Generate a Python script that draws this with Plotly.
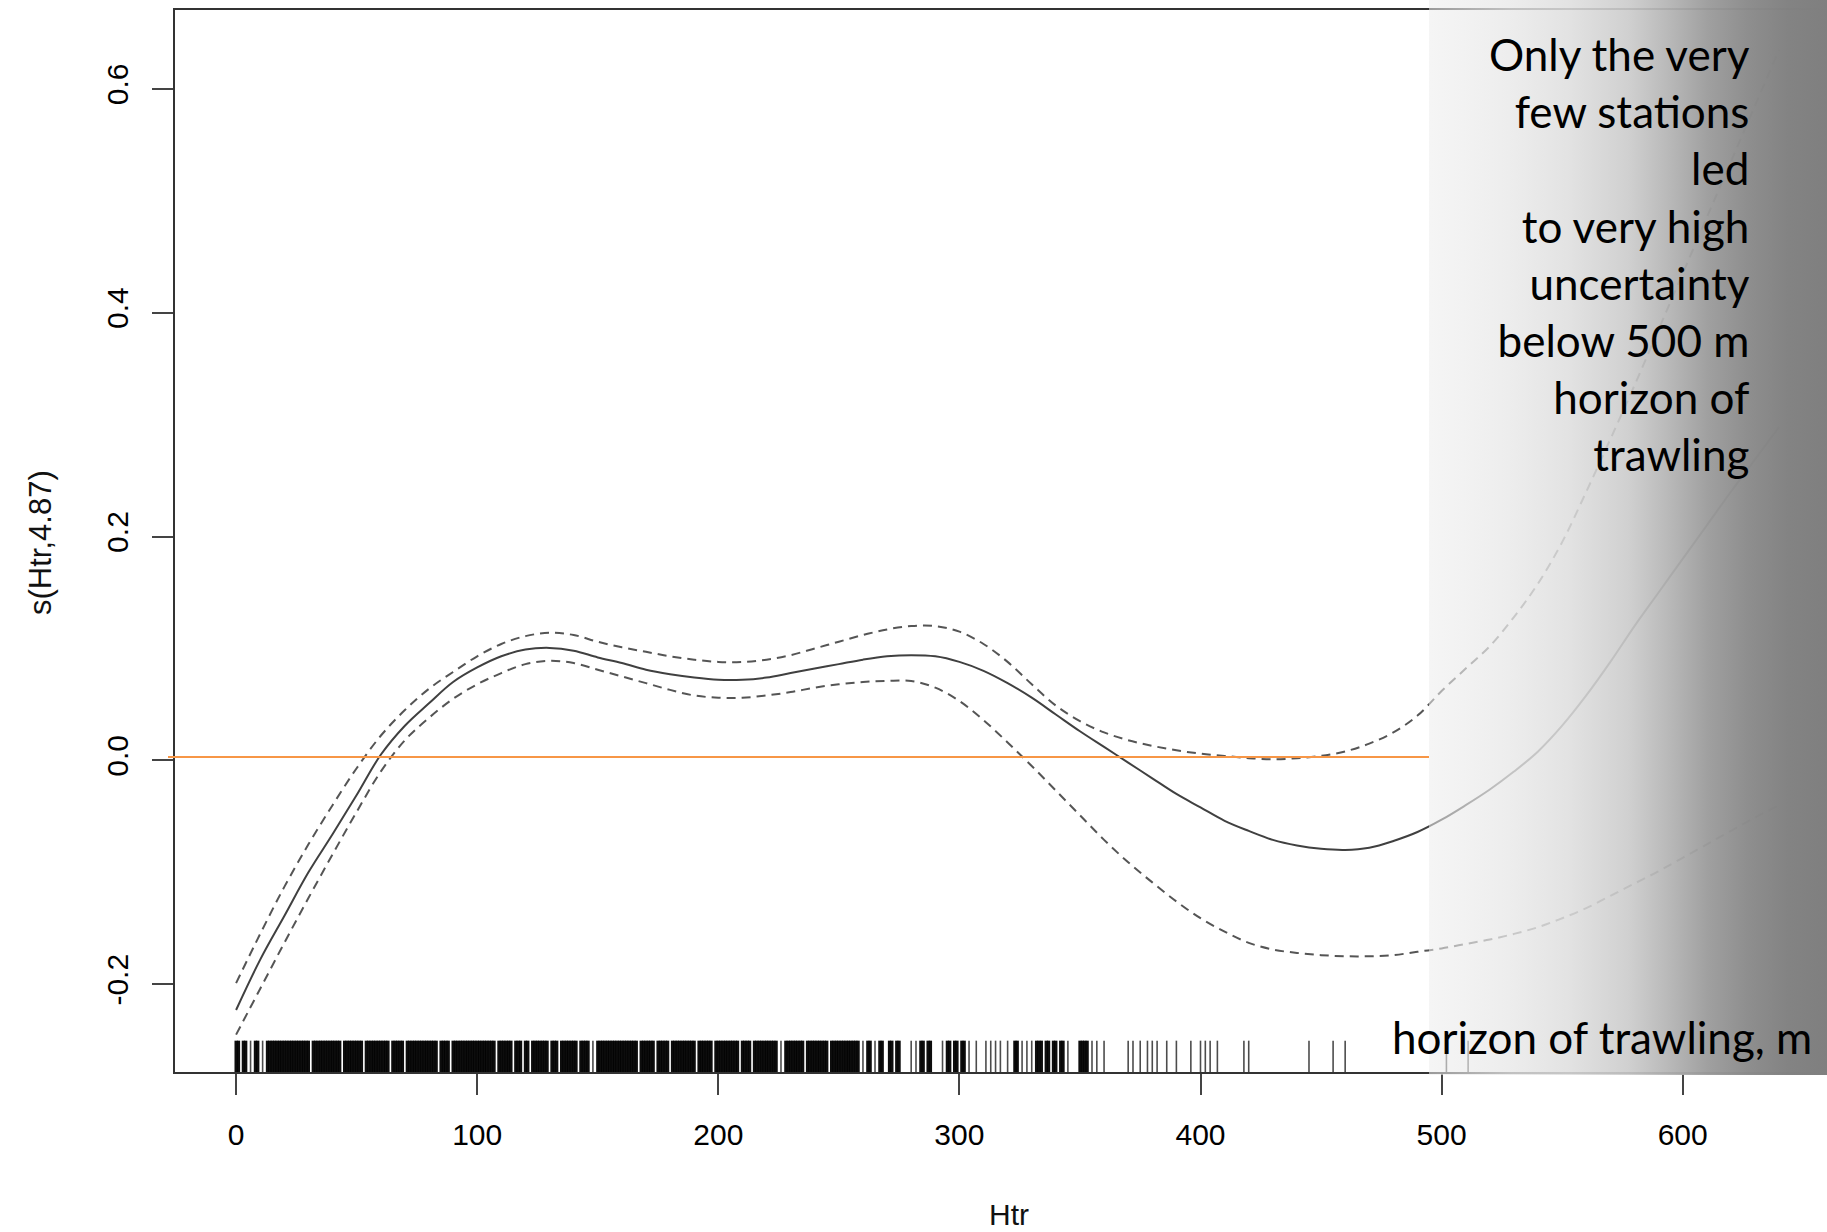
import base64
import plotly.graph_objects as go

# ---------------- data ----------------
htr = [0, 10, 20, 30, 40, 50, 60, 70, 80, 90, 100, 110, 120, 130, 140, 150, 160,
       170, 180, 190, 200, 210, 220, 230, 240, 250, 260, 270, 280, 290, 300, 310,
       320, 330, 340, 350, 360, 370, 380, 390, 400, 410, 420, 430, 440, 450, 460,
       470, 480, 490, 500, 510, 520, 530, 540, 550, 560, 570, 580, 590, 600, 610,
       620, 630, 640]
fit = [-0.223, -0.178, -0.139, -0.100, -0.066, -0.031, 0.005, 0.031, 0.051, 0.070,
       0.083, 0.093, 0.099, 0.1005, 0.098, 0.092, 0.087, 0.081, 0.077, 0.074, 0.072,
       0.072, 0.074, 0.078, 0.082, 0.086, 0.090, 0.093, 0.094, 0.093, 0.088, 0.080,
       0.069, 0.056, 0.041, 0.026, 0.012, -0.002, -0.016, -0.030, -0.042, -0.054,
       -0.063, -0.071, -0.076, -0.079, -0.080, -0.078, -0.072, -0.064, -0.053,
       -0.040, -0.026, -0.010, 0.008, 0.031, 0.058, 0.088, 0.120, 0.150, 0.180,
       0.210, 0.240, 0.269, 0.298]
upper = [-0.199, -0.155, -0.113, -0.075, -0.040, -0.007, 0.022, 0.045, 0.064, 0.079,
         0.093, 0.104, 0.111, 0.114, 0.112, 0.106, 0.101, 0.097, 0.093, 0.090, 0.088,
         0.088, 0.090, 0.094, 0.100, 0.106, 0.112, 0.117, 0.120, 0.120, 0.115, 0.104,
         0.088, 0.068, 0.049, 0.035, 0.025, 0.018, 0.013, 0.009, 0.006, 0.004, 0.002,
         0.001, 0.002, 0.004, 0.008, 0.015, 0.025, 0.040, 0.062, 0.082, 0.102, 0.128,
         0.158, 0.195, 0.240, 0.287, 0.335, 0.385, 0.435, 0.485, 0.535, 0.585, 0.635]
lower = [-0.245, -0.204, -0.163, -0.123, -0.084, -0.046, -0.010, 0.018, 0.038, 0.055,
         0.068, 0.078, 0.086, 0.089, 0.087, 0.081, 0.075, 0.069, 0.063, 0.058, 0.056,
         0.056, 0.058, 0.061, 0.065, 0.068, 0.070, 0.071, 0.071, 0.065, 0.053, 0.036,
         0.016, -0.005, -0.027, -0.049, -0.071, -0.091, -0.109, -0.126, -0.141,
         -0.153, -0.163, -0.169, -0.172, -0.174, -0.175, -0.175, -0.174, -0.171,
         -0.168, -0.164, -0.160, -0.155, -0.149, -0.141, -0.132, -0.121, -0.110,
         -0.099, -0.087, -0.075, -0.063, -0.051, -0.040]

rug_htr = [
    0, 1, 3, 4, 6, 8, 9, 11, 13, 14, 15,
    16, 17, 18, 19, 20, 21, 22, 23, 24, 25, 26, 27, 28, 29, 30,
    32, 33, 34, 35, 36, 37, 38, 39, 40, 41, 42, 43,
    45, 46, 47, 48, 49, 50, 51, 52,
    54, 55, 56, 57, 58, 59, 60, 61, 62, 63,
    65, 66, 67, 68, 69,
    71, 72, 73, 74, 75, 76, 77, 78, 79, 80, 81, 82, 83,
    85, 86, 87, 88,
    90, 91, 92, 93, 94, 95, 96, 97, 98, 99, 100, 101, 102, 103, 104, 105, 106, 107,
    109, 110, 111, 112, 113, 114,
    116, 117, 118,
    120, 121,
    123, 124, 125, 126, 127, 128, 129,
    131, 132, 133,
    135, 136, 137, 138, 139, 140, 141,
    143, 144, 145, 146,
    148,
    150, 151, 152, 153, 154, 155,
    156, 157, 158, 159, 160, 161, 162, 163, 164, 165, 166,
    168, 169, 170, 171, 172, 173,
    175, 176, 177, 178, 179,
    181, 182, 183, 184, 185, 186, 187, 188, 189, 190,
    192, 193, 194, 195, 196, 197,
    199, 200, 201, 202, 203, 204, 205, 206, 207, 208,
    210, 211, 212, 213,
    215, 216, 217, 218, 219, 220, 221, 222, 223, 224,
    226,
    228, 229, 230, 231, 232, 233, 234, 235,
    237, 238, 239, 240, 241, 242, 243, 244, 245,
    247, 248, 249, 250, 251, 252, 253, 254, 255, 256,
    257, 258, 260, 262, 263, 265, 267, 268, 271, 272, 274, 275,
    280, 282, 284, 285, 287, 288, 293, 295, 296, 298, 299, 301, 302, 304,
    307, 311, 313, 315, 317, 320, 323, 324, 326, 328, 330, 332, 333, 334,
    336, 337, 339, 340, 342, 343, 345, 350, 351, 352, 353, 355, 357, 360,
    370, 372, 375, 378, 380, 382, 386, 390, 396, 400, 402, 404, 407, 418,
    420, 445, 455, 460, 502, 511,
]

x_ticks = [0, 100, 200, 300, 400, 500, 600]
y_ticks = [-0.2, 0.0, 0.2, 0.4, 0.6]
y_tick_text = ["-0.2", "0.0", "0.2", "0.4", "0.6"]
reference_level = 0.003

note_lines = ["Only the very", "few stations", "led", "to very high",
              "uncertainty", "below 500 m", "horizon of", "trawling"]
axis_note = "horizon of trawling, m"
x_title = "Htr"
y_title = "s(Htr,4.87)"

# ---------------- layout geometry ----------------
W, H = 1827, 1232
ML, MR, MT, MB = 175, 0, 10, 160
PW = W - ML - MR
PH = H - MT - MB


def px_x(p):
    return (p - ML) / PW


def px_y(p):
    return (H - MB - p) / PH


X_RANGE = [-25.34, 659.85]
Y_RANGE = [-0.2784, 0.6704]
RUG_BOTTOM = -0.2784
RUG_TOP = -0.2504

AXIS_FONT = "Liberation Sans, Arial, sans-serif"
NOTE_FONT = "Lato, Open Sans, sans-serif"

fig = go.Figure()

# rug: ticks packed closely overlap into a solid band; isolated ticks are thin
rug_set = set(rug_htr)
dense_x, dense_y, lone_x, lone_y = [], [], [], []
for v in rug_htr:
    packed = (v - 1) in rug_set or (v + 1) in rug_set
    bx, by = (dense_x, dense_y) if packed else (lone_x, lone_y)
    bx += [v, v, None]
    by += [RUG_BOTTOM, RUG_TOP, None]
fig.add_trace(go.Scatter(x=dense_x, y=dense_y, mode="lines",
                         line=dict(color="rgba(0,0,0,0.95)", width=3.2),
                         hoverinfo="skip", showlegend=False))
fig.add_trace(go.Scatter(x=lone_x, y=lone_y, mode="lines",
                         line=dict(color="rgba(0,0,0,0.7)", width=1.6),
                         hoverinfo="skip", showlegend=False))

# confidence bands and fit
for arr in (upper, lower):
    fig.add_trace(go.Scatter(x=htr, y=arr, mode="lines",
                             line=dict(color="#555555", width=2, dash="9px,6px",
                                       shape="spline", smoothing=1),
                             showlegend=False))
fig.add_trace(go.Scatter(x=htr, y=fit, mode="lines",
                         line=dict(color="#404040", width=2, shape="spline",
                                   smoothing=1),
                         showlegend=False))

# orange reference line
ORANGE_Y = px_y(760.4 - reference_level * 1119.4)
fig.add_shape(type="line", xref="paper", yref="paper",
              x0=px_x(168), x1=px_x(1429), y0=ORANGE_Y, y1=ORANGE_Y,
              line=dict(color="#F79646", width=2), layer="above")

# gradient overlay as SVG image
OV_X0, OV_X1, OV_Y0, OV_Y1 = 1429, 1827, 0, 1075
stops = [(0.0, 245, 0.55), (0.2, 237, 0.78), (0.35, 227, 0.86), (0.5, 208, 0.90),
         (0.6, 185, 0.93), (0.7, 160, 0.96), (0.8, 142, 0.98), (0.9, 131, 0.99),
         (1.0, 127, 1.0)]
stop_txt = ""
for off, bg, a in stops:
    c = int(round((bg - (1 - a) * 255) / a))
    c = max(0, min(255, c))
    stop_txt += f"<stop offset='{off}' stop-color='rgb({c},{c},{c})' stop-opacity='{a}'/>"
ow, oh = OV_X1 - OV_X0, OV_Y1 - OV_Y0
svg = (f"<svg xmlns='http://www.w3.org/2000/svg' width='{ow}' height='{oh}' "
       f"viewBox='0 0 {ow} {oh}' preserveAspectRatio='none'><defs>"
       f"<linearGradient id='g' x1='0' y1='0' x2='1' y2='0'>{stop_txt}</linearGradient>"
       f"</defs><rect x='0' y='0' width='{ow}' height='{oh}' fill='url(#g)'/></svg>")
src = "data:image/svg+xml;base64," + base64.b64encode(svg.encode()).decode()
fig.add_layout_image(dict(source=src, xref="paper", yref="paper",
                          x=px_x(OV_X0), y=px_y(OV_Y0),
                          sizex=ow / PW, sizey=oh / PH,
                          xanchor="left", yanchor="top", sizing="stretch",
                          layer="above", opacity=1))

# notes
fig.add_annotation(text="<br>".join(note_lines), xref="paper", yref="paper",
                   x=px_x(1752), y=px_y(254), xanchor="right", yanchor="middle",
                   align="right", showarrow=False,
                   font=dict(family=NOTE_FONT, size=44, color="#000000"))
fig.add_annotation(text=axis_note, xref="paper", yref="paper",
                   x=px_x(1814), y=px_y(1037), xanchor="right", yanchor="middle",
                   showarrow=False,
                   font=dict(family=NOTE_FONT, size=44, color="#000000"))

# axis titles
fig.add_annotation(text=x_title, xref="paper", yref="paper",
                   x=px_x(1009), y=px_y(1214), xanchor="center", yanchor="middle",
                   showarrow=False, font=dict(family=AXIS_FONT, size=30, color="#111111"))
fig.add_annotation(text=y_title, xref="paper", yref="paper",
                   x=px_x(40), y=px_y(543), xanchor="center", yanchor="middle",
                   textangle=-90, showarrow=False,
                   font=dict(family=AXIS_FONT, size=31, color="#111111"))

fig.update_layout(
    width=W, height=H,
    margin=dict(l=ML, r=MR, t=MT, b=MB, pad=0),
    paper_bgcolor="white", plot_bgcolor="white",
    showlegend=False,
    xaxis=dict(range=X_RANGE, tickvals=x_ticks, ticks="outside", ticklen=21,
               tickwidth=1.5, tickcolor="#444444", showline=True, linecolor="#333333",
               linewidth=2, mirror=True, showgrid=False, zeroline=False,
               tickfont=dict(family=AXIS_FONT, size=30, color="#000000"),
               ticklabelstandoff=14),
    yaxis=dict(range=Y_RANGE, tickvals=y_ticks, ticktext=y_tick_text, tickangle=-90,
               ticks="outside", ticklen=21, tickwidth=1.5, tickcolor="#444444",
               showline=True, linecolor="#333333", linewidth=2, showgrid=False,
               zeroline=False,
               tickfont=dict(family=AXIS_FONT, size=30, color="#000000"),
               ticklabelstandoff=12),
)

fig.write_html("out.html")
